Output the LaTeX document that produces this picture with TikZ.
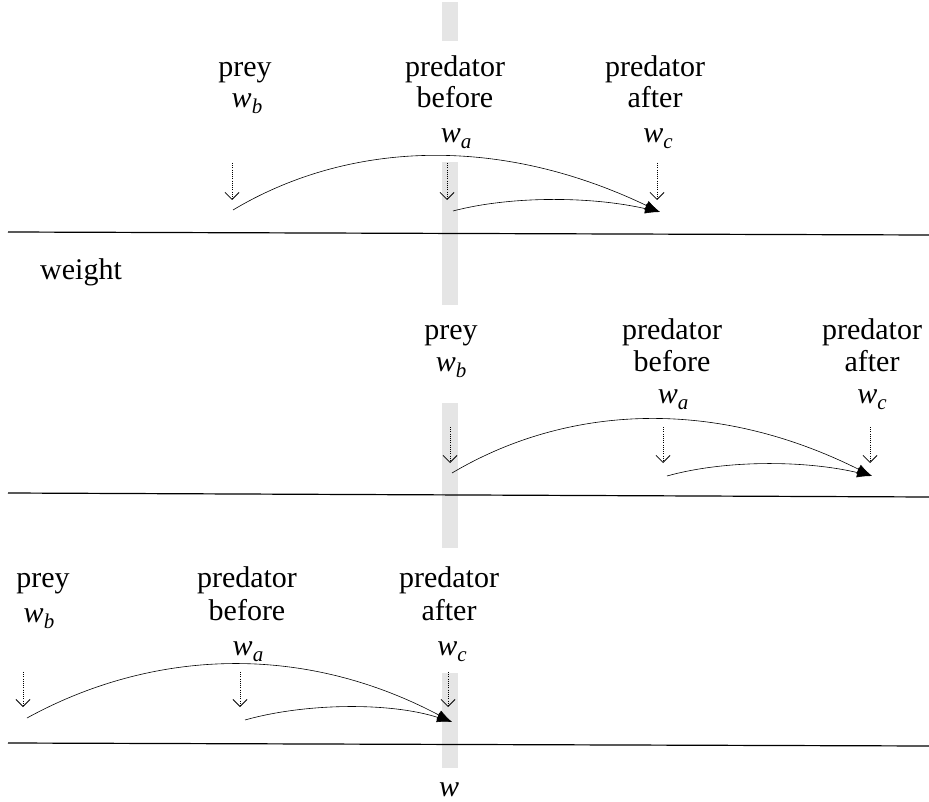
\documentclass[tikz,border=0pt]{standalone}
\usepackage{fontspec}
\setmainfont{Liberation Serif}
\usetikzlibrary{arrows.meta}
\newcommand\wsub[1]{\textit{w}\raisebox{-6pt}{\fontsize{21}{21}\selectfont\textit{#1}}}
\begin{document}
\begin{tikzpicture}[x=1pt,y=-1pt,
  lbl/.style={anchor=base, inner sep=0pt, font=\fontsize{30}{36}\selectfont},
  rule/.style={line width=1.2pt},
  greybar/.style={fill=black!10, draw=none},
  drop/.style={dash pattern=on 1pt off 1.2pt, line width=0.8pt, -{Straight Barb[length=7pt,width=14pt,line width=0.8pt]}},
  swing/.style={line width=0.6pt, -{Latex[length=15pt,width=10pt]}}]
\fill[white] (0,0) rectangle (929,802);
\useasboundingbox (0,0) rectangle (929,802);
% grey bar segments
\fill[greybar] (442,2) rectangle (458,41);
\fill[greybar] (442,162) rectangle (458,305);
\fill[greybar] (442,403) rectangle (458,548);
\fill[greybar] (442,673) rectangle (458,768);
% rules
\coordinate (r1a) at (8,232); \coordinate (r1b) at (929,235);
\coordinate (r2a) at (8,493); \coordinate (r2b) at (929,497);
\coordinate (r3a) at (8,743); \coordinate (r3b) at (929,746);
\draw[rule] (r1a) -- (r1b);
\draw[rule] (r2a) -- (r2b);
\draw[rule] (r3a) -- (r3b);
\node[lbl, anchor=base west] (weight) at (40,280) {weight};
\node[lbl] (waxis) at (449,796) {\textit{w}};
% ---------- panel 1
\node[lbl] (p1prey) at (245,77) {prey};
\node[lbl] (p1wb) at (247,108) {\wsub{b}};
\node[lbl] (p1pred) at (455,77) {predator};
\node[lbl] (p1bef) at (455,108) {before};
\node[lbl] (p1wa) at (456,143) {\wsub{a}};
\node[lbl] (p1predb) at (655,77) {predator};
\node[lbl] (p1aft) at (655,108) {after};
\node[lbl] (p1wc) at (658,143) {\wsub{c}};
\coordinate (p1d1a) at (232,163); \coordinate (p1d1b) at (232,200);
\coordinate (p1d2a) at (447,163); \coordinate (p1d2b) at (447,200);
\coordinate (p1d3a) at (657,163); \coordinate (p1d3b) at (657,200);
\draw[drop] (p1d1a) -- (p1d1b);
\draw[drop] (p1d2a) -- (p1d2b);
\draw[drop] (p1d3a) -- (p1d3b);
\coordinate (p1s1) at (233,210); \coordinate (p1s2) at (453,211); \coordinate (p1e) at (660,212);
\draw[swing] (p1s1) .. controls (345,143) and (495,133) .. (p1e);
\draw[swing] (p1s2) .. controls (510,196) and (590,196) .. (p1e);
% ---------- panel 2
\node[lbl] (p2prey) at (451,339) {prey};
\node[lbl] (p2wb) at (451,371) {\wsub{b}};
\node[lbl] (p2pred) at (672,339) {predator};
\node[lbl] (p2bef) at (672,371) {before};
\node[lbl] (p2wa) at (673,403) {\wsub{a}};
\node[lbl] (p2predb) at (872,339) {predator};
\node[lbl] (p2aft) at (872,371) {after};
\node[lbl] (p2wc) at (872,403) {\wsub{c}};
\coordinate (p2d1a) at (450,427); \coordinate (p2d1b) at (450,463);
\coordinate (p2d2a) at (663,427); \coordinate (p2d2b) at (663,463);
\coordinate (p2d3a) at (870,427); \coordinate (p2d3b) at (870,463);
\draw[drop] (p2d1a) -- (p2d1b);
\draw[drop] (p2d2a) -- (p2d2b);
\draw[drop] (p2d3a) -- (p2d3b);
\coordinate (p2s1) at (452,473); \coordinate (p2s2) at (667,476); \coordinate (p2e) at (872,476);
\draw[swing] (p2s1) .. controls (565,406) and (712,396) .. (p2e);
\draw[swing] (p2s2) .. controls (724,460) and (804,460) .. (p2e);
% ---------- panel 3
\node[lbl] (p3prey) at (43,587) {prey};
\node[lbl] (p3wb) at (39,622) {\wsub{b}};
\node[lbl] (p3pred) at (247,587) {predator};
\node[lbl] (p3bef) at (247,620) {before};
\node[lbl] (p3wa) at (248,655) {\wsub{a}};
\node[lbl] (p3predb) at (449,587) {predator};
\node[lbl] (p3aft) at (449,620) {after};
\node[lbl] (p3wc) at (452,655) {\wsub{c}};
\coordinate (p3d1a) at (23,672); \coordinate (p3d1b) at (23,707);
\coordinate (p3d2a) at (240,672); \coordinate (p3d2b) at (240,707);
\coordinate (p3d3a) at (448,672); \coordinate (p3d3b) at (448,707);
\draw[drop] (p3d1a) -- (p3d1b);
\draw[drop] (p3d2a) -- (p3d2b);
\draw[drop] (p3d3a) -- (p3d3b);
\coordinate (p3s1) at (27,718); \coordinate (p3s2) at (245,720); \coordinate (p3e) at (452,722);
\draw[swing] (p3s1) .. controls (149,651) and (299,641) .. (p3e);
\draw[swing] (p3s2) .. controls (305,703) and (390,702) .. (p3e);
\end{tikzpicture}
\end{document}
